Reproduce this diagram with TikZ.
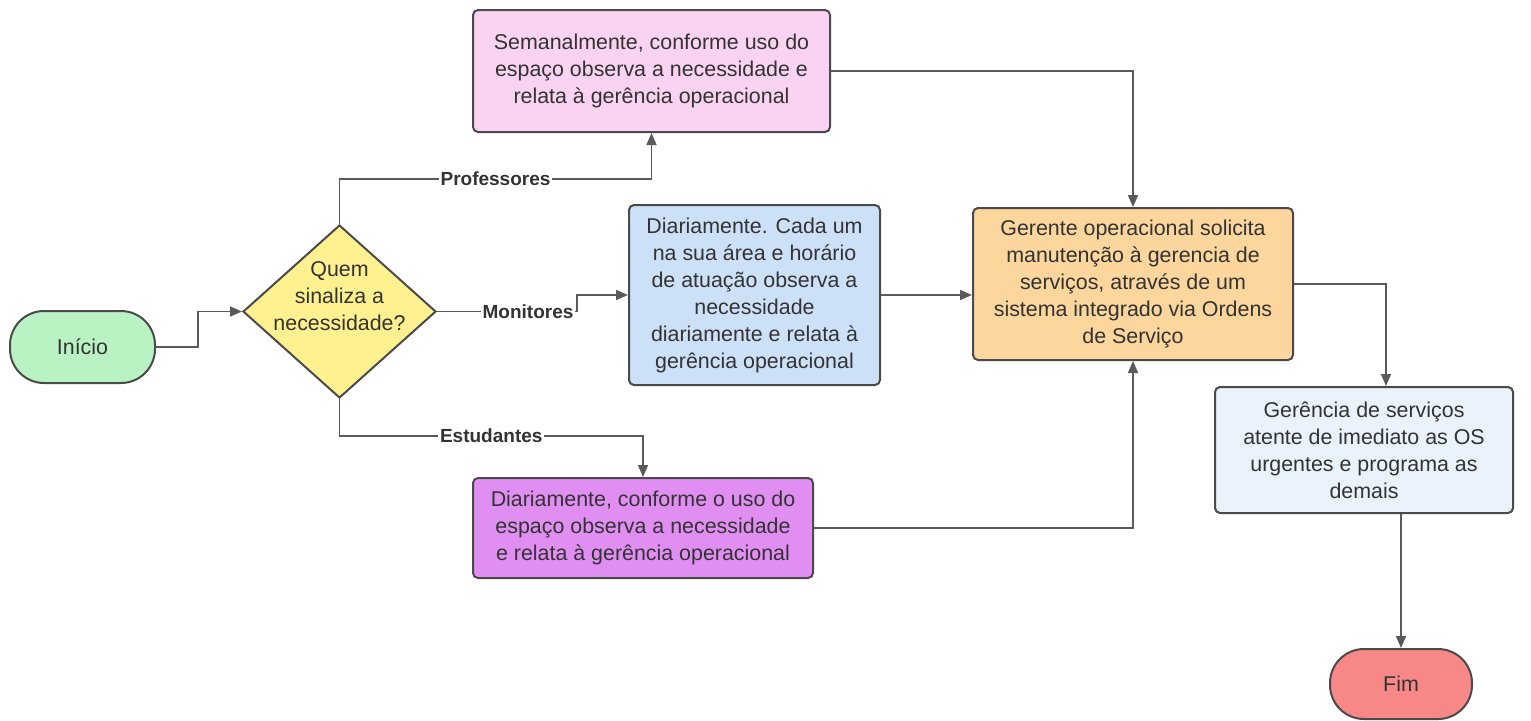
\documentclass[tikz,border=0pt]{standalone}
\usepackage{fontspec}
\setmainfont{Liberation Sans}
\usetikzlibrary{shapes.geometric,arrows.meta,calc}
\definecolor{line-gray}{HTML}{5A5A5A}
\definecolor{edge-gray}{HTML}{4A4A4A}
\definecolor{txt-gray}{HTML}{333333}
\definecolor{my-green}{HTML}{B9F2C3}
\definecolor{my-yellow}{HTML}{FFF190}
\definecolor{my-pink}{HTML}{FBD3F2}
\definecolor{my-blue}{HTML}{CCE1F8}
\definecolor{my-orange}{HTML}{FCD69C}
\definecolor{my-purple}{HTML}{E08EF2}
\definecolor{my-lightblue}{HTML}{EAF2FB}
\definecolor{my-red}{HTML}{F88888}
\tikzset{
  box/.style={draw=edge-gray, line width=1pt, rounded corners=2.5pt, align=center,
    text=txt-gray, font=\fontsize{10.7}{13.5}\selectfont, inner sep=2pt},
  terminal/.style={draw=edge-gray, line width=1pt, rounded corners=17pt, align=center,
    text=txt-gray, font=\fontsize{10.7}{13.5}\selectfont},
  decision/.style={draw=edge-gray, line width=1pt, diamond, fill=my-yellow, inner sep=0pt,
    minimum width=96.5pt, minimum height=86.5pt},
  flow/.style={draw=line-gray, line width=0.8pt, -{Triangle[length=6pt,width=5pt]}},
  lbl/.style={fill=white, inner sep=1pt, text=txt-gray, font=\fontsize{9.5}{11}\selectfont\bfseries},
}
\begin{document}
\begin{tikzpicture}[x=0.5pt, y=-0.5pt]
  \useasboundingbox (0,0) rectangle (1531,720);
  % nodes
  \node[terminal, fill=my-green, minimum width=72.5pt, minimum height=36pt] (start) at (82.5,347) {Início};
  \node[decision] (q) at (339.5,311.5) {};
  \node[align=center, text=txt-gray, font=\fontsize{10.7}{13.5}\selectfont] (qtext) at ($(q)+(0,-15)$) {Quem\\sinaliza a\\necessidade?};
  \node[box, fill=my-pink, minimum width=178.5pt, minimum height=61pt] (prof) at (651.5,71)
    {Semanalmente, conforme uso do\\espaço observa a necessidade e\\relata à gerência operacional};
  \node[box, fill=my-blue, minimum width=125.5pt, minimum height=90pt] (mon) at (754.5,295)
    {Diariamente. Cada um\\na sua área e horário\\de atuação observa a\\necessidade\\diariamente e relata à\\gerência operacional};
  \node[box, fill=my-purple, minimum width=170pt, minimum height=50pt] (est) at (643,528)
    {Diariamente, conforme o uso do\\espaço observa a necessidade\\e relata à gerência operacional};
  \node[box, fill=my-orange, minimum width=160pt, minimum height=76pt] (ger) at (1133,284)
    {Gerente operacional solicita\\manutenção à gerencia de\\serviços, através de um\\sistema integrado via Ordens\\de Serviço};
  \node[box, fill=my-lightblue, minimum width=149pt, minimum height=63pt] (serv) at (1364,450)
    {Gerência de serviços\\atente de imediato as OS\\urgentes e programa as\\demais};
  \node[terminal, fill=my-red, minimum width=71pt, minimum height=35pt] (fim) at (1401,684) {Fim};
  % connectors
  \coordinate (profturn) at ($(prof.south)+(0,46)$);
  \coordinate (estturn) at ($(est.north)+(0,-41)$);
  \coordinate (servin) at ($(serv.north)+(22,0)$);
  \draw[flow] (start.east) -- ++(42,0) |- (q.west);
  \draw[flow] (q.north) |- node[lbl, pos=0.75] {Professores} (profturn) -- (prof.south);
  \draw[flow] (q.east) -- node[lbl, pos=0.65] {Monitores} ++(140,0) |- (mon.west);
  \draw[flow] (q.south) |- node[lbl, pos=0.75] {Estudantes} (estturn) -- (est.north);
  \draw[flow] (prof.east) -| (ger.north);
  \draw[flow] (mon.east) -- (mon.east -| ger.west);
  \draw[flow] (est.east) -| (ger.south);
  \draw[flow] (ger.east) -| (servin);
  \draw[flow] (fim.north |- serv.south) -- (fim.north);
\end{tikzpicture}
\end{document}
